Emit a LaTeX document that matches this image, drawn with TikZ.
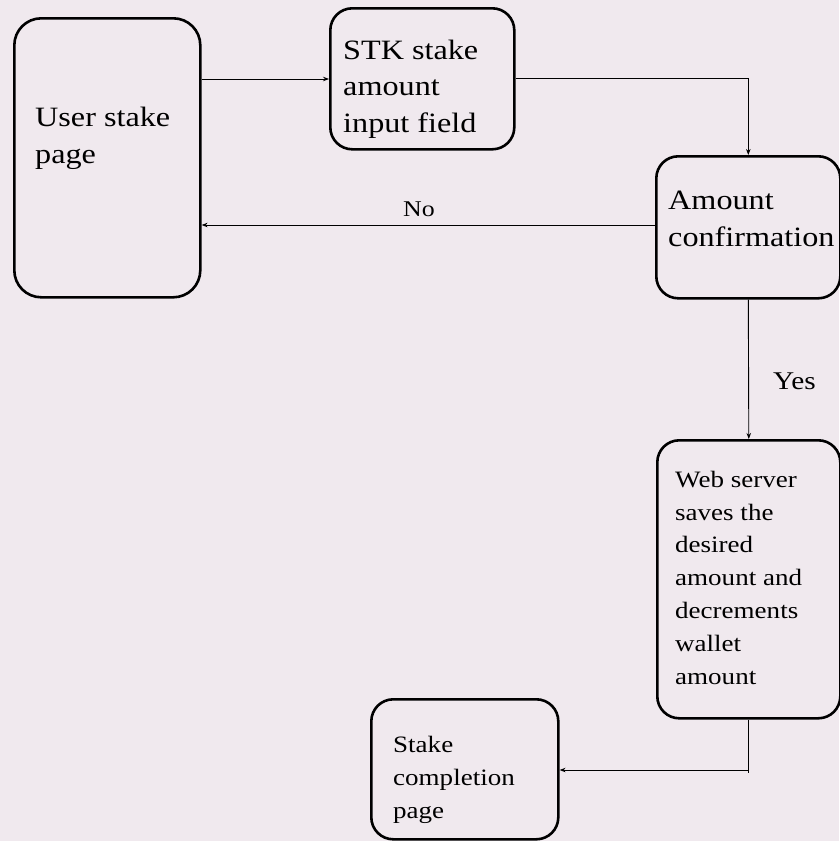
\documentclass[tikz,border=0pt]{standalone}
\usepackage{fontspec}
\setmainfont{Liberation Serif}[FakeStretch=1.15]
\usetikzlibrary{arrows.meta}
\definecolor{bgc}{RGB}{240,233,238}
\tikzset{
  box/.style={draw=black, line width=2.6pt, rounded corners=22pt, anchor=north west, inner sep=0pt},
  conn/.style={draw=black, line width=0.9pt},
  arr/.style={conn, -{Stealth[length=6pt,width=4.5pt]}},
  bigtxt/.style={anchor=base west, inner sep=0pt, align=left, font=\fontsize{28}{36.5}\selectfont},
  smalltxt/.style={anchor=base west, inner sep=0pt, align=left, font=\fontsize{23.5}{32.8}\selectfont},
  lbl/.style={anchor=base west, inner sep=0pt}
}
\begin{document}
\begin{tikzpicture}[x=1pt,y=-1pt]
\fill[bgc] (0,0) rectangle (839,841);
\useasboundingbox (0,0) rectangle (839,841);
% boxes
\node[box, minimum width=186pt, minimum height=279pt, rounded corners=27pt] (user) at (13,17) {};
\node[box, minimum width=184pt, minimum height=141pt] (stk) at (329,7) {};
\node[box, minimum width=184pt, minimum height=142pt] (amt) at (655,155) {};
\node[box, minimum width=183pt, minimum height=278pt] (web) at (656,439) {};
\node[box, minimum width=187pt, minimum height=140pt] (done) at (370,698) {};
% texts (anchored at the baseline of the last line)
\node[bigtxt] (tuser) at (35,163) {User stake\\page};
\node[bigtxt] (tstk) at (343,132) {STK stake\\amount\\input field};
\node[bigtxt] (tamt) at (668,246) {Amount\\confirmation};
\node[smalltxt] (tweb) at (675,684) {Web server\\saves the\\desired\\amount and\\decrements\\wallet\\amount};
\node[smalltxt] (tdone) at (393,818) {Stake\\completion\\page};
% helper coordinates
\coordinate (y1) at (0,79);
\coordinate (y2) at (0,78);
\coordinate (y3) at (0,225);
\coordinate (y4) at (0,770);
\coordinate (y5) at (0,773);
% connectors
\draw[arr] (user.east |- y1) -- (stk.west |- y1);
\draw[arr] (stk.east |- y2) -| (amt.north);
\draw[arr] (amt.west |- y3) -- (user.east |- y3);
\node[lbl, font=\fontsize{22.5}{27}\selectfont] (no) at (403,216) {No};
\draw[arr] (amt.south) -- (web.north);
\node[lbl, font=\fontsize{25.5}{30}\selectfont] (yes) at (773,389) {Yes};
\draw[conn] (web.south) -- (web.south |- y5);
\draw[arr] (web.south |- y4) -- (done.east |- y4);
\end{tikzpicture}
\end{document}
